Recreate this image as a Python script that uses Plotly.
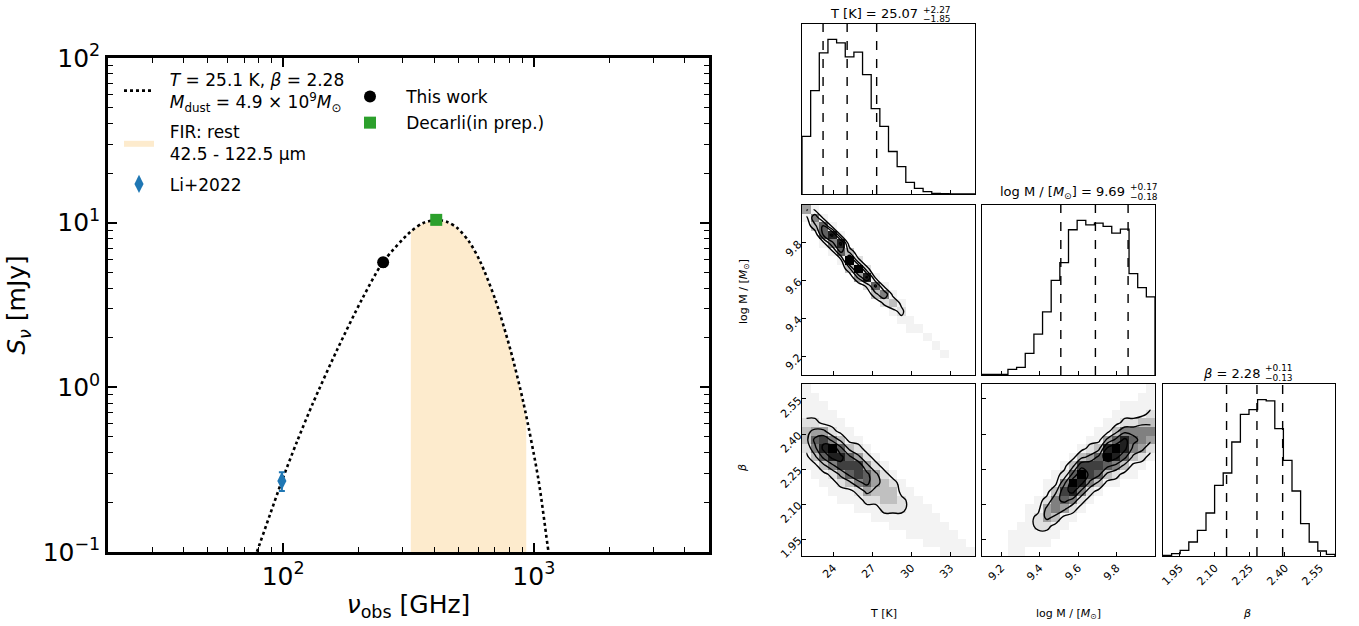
import numpy as np
import plotly.graph_objects as go

W, H = 1359, 626
FONT = "DejaVu Sans"
NB = "\u00a0"

# ---------------- SED panel data ----------------
model_nu = [75.6, 78.5, 88.5, 98.8, 113.4, 131.5, 164.0, 206.5, 250.5, 321.2, 362.2,
            408.2, 451.6, 495.2, 553.2, 612.1, 702.9, 807.0, 909.5, 1044.0, 1145.0, 1172.0]
model_S = [0.0858, 0.100, 0.168, 0.270, 0.466, 0.803, 1.686, 3.44, 5.77, 8.78, 9.95,
           10.38, 10.09, 9.28, 7.63, 5.77, 3.39, 1.686, 0.803, 0.274, 0.100, 0.0822]
fir_nu_edges = [323.0, 933.0]
fir_S_edges = [8.84, 0.66]

li_nu = [98.8]
li_S = [0.27]
li_err = [0.035]
tw_nu = [250.5]
tw_S = [5.75]
tw_err = [0.35]
dc_nu = [408.0]
dc_S = [10.4]
dc_err = [0.6]

sed_xticks = [100, 1000]
sed_xticklabels = ["10<sup>2</sup>", "10<sup>3</sup>"]
sed_yticks = [0.1, 1, 10, 100]
sed_yticklabels = ["10<sup>−1</sup>", "10<sup>0</sup>", "10<sup>1</sup>", "10<sup>2</sup>"]
sed_xlim = [20, 5000]
sed_ylim = [0.1, 100]

# ---------------- corner plot data ----------------
T_range = [21.6, 34.9]
M_range = [9.10, 10.0]
B_range = [1.878, 2.614]

T_hist = [172, 309, 422, 462, 452, 410, 424, 357, 255, 202, 127, 82, 35, 17, 7, 2, 1, 0, 0, 0]
M_hist = [2, 2, 2, 17, 23, 65, 123, 190, 285, 338, 437, 465, 452, 457, 447, 427, 439, 305, 263, 235]
B_hist = [2, 7, 17, 42, 77, 129, 212, 249, 342, 425, 439, 469, 465, 382, 287, 195, 97, 42, 15, 5]

T_q = [23.22, 25.07, 27.34]
M_q = [9.51, 9.69, 9.86]
B_q = [2.15, 2.28, 2.39]

T_ticks = [24, 27, 30, 33]
T_ticklabels = ["24", "27", "30", "33"]
M_ticks = [9.2, 9.4, 9.6, 9.8]
M_ticklabels = ["9.2", "9.4", "9.6", "9.8"]
B_ticks = [1.95, 2.10, 2.25, 2.40, 2.55]
B_ticklabels = ["1.95", "2.10", "2.25", "2.40", "2.55"]

# 2-D histogram grey levels (0 empty, 1 faint sample cloud ... 9 darkest), top row first
TM_grid = [
    "41000000000000000000",
    "15100000000000000000",
    "03610000000000000000",
    "00681000000000000000",
    "00158000000000000000",
    "00016300000000000000",
    "00001920000000000000",
    "00000392000000000000",
    "00000048100000000000",
    "00000002610000000000",
    "00000000351000000000",
    "00000000023100000000",
    "00000000001200000000",
    "00000000000110000000",
    "00000000000011000000",
    "00000000000000100000",
    "00000000000000010000",
    "00000000000000001000",
    "00000000000000000000",
    "00000000000000000000",
]
TB_grid = [
    "10000000000000000000",
    "11000000000000000000",
    "11100000000000000000",
    "11110000000000000000",
    "22111000000000000000",
    "34421100000000000000",
    "36753110000000000000",
    "25896321000000000000",
    "13688642100000000000",
    "11357774210000000000",
    "01124676421000000000",
    "00112356432100000000",
    "00011124333110000000",
    "00001112233211000000",
    "00000011122211100000",
    "00000000111111110000",
    "00000000001111111000",
    "00000000000011111100",
    "00000000000000111110",
    "00000000000000001111",
]
MB_grid = [
    "00000000000000000001",
    "00000000000000000011",
    "00000000000000001111",
    "00000000000000011112",
    "00000000000000112233",
    "00000000000001135555",
    "00000000000011468654",
    "00000000000123898542",
    "00000000001346986321",
    "00000000013777653110",
    "00000000126976321100",
    "00000001159853110000",
    "00000001378521000000",
    "00000012565210000000",
    "00000114542100000000",
    "00000124311000000000",
    "00001122110000000000",
    "00011111100000000000",
    "00011111000000000000",
    "00011000000000000000",
]

# ---------------- layout geometry (pixels) ----------------
SED_BOX = (108, 709, 58, 552)  # left, right, top, bottom
COLS = [(802, 975), (982, 1155), (1163, 1335)]
ROWS = [(24, 194), (205, 375), (384, 556)]


def dx(a, b):
    return [a / W, b / W]


def dy(top, bottom):
    return [1 - bottom / H, 1 - top / H]


fig = go.Figure()

# ---- SED panel ----
inner = [(n, s) for n, s in zip(model_nu, model_S) if fir_nu_edges[0] < n < fir_nu_edges[1]]
fx = [fir_nu_edges[0]] + [n for n, _ in inner] + [fir_nu_edges[1], fir_nu_edges[1], fir_nu_edges[0]]
fy = [fir_S_edges[0]] + [s for _, s in inner] + [fir_S_edges[1], 0.01, 0.01]
fig.add_trace(go.Scatter(x=fx, y=fy, mode="lines", fill="toself", fillcolor="#fdebcd",
                         line=dict(width=0, color="#fdebcd"),
                         name=NB * 2 + "FIR: rest<br>" + NB * 2 + "42.5 - 122.5 µm", legendrank=2,
                         legendgroup="fir", xaxis="x", yaxis="y", hoverinfo="skip"))
fig.add_trace(go.Scatter(x=model_nu, y=model_S, mode="lines",
                         line=dict(color="black", dash="dot", width=2.6, shape="spline", smoothing=0.8),
                         name=NB * 2 + "<i>T</i> = 25.1 K, <i>β</i> = 2.28<br>" + NB * 2
                              + "<i>M</i><sub>dust</sub> = 4.9 × 10<sup>9</sup><i>M</i><sub>⊙</sub>",
                         legendrank=1, legendgroup="model", xaxis="x", yaxis="y"))
fig.add_trace(go.Scatter(x=li_nu, y=li_S, mode="markers",
                         marker=dict(symbol="diamond-tall", size=13, color="#1f77b4"),
                         error_y=dict(type="data", array=li_err, color="#1f77b4", thickness=2, width=3),
                         name=NB * 2 + "Li+2022", legendrank=3, legendgroup="li", xaxis="x", yaxis="y"))
fig.add_trace(go.Scatter(x=tw_nu, y=tw_S, mode="markers",
                         marker=dict(symbol="circle", size=12, color="black"),
                         error_y=dict(type="data", array=tw_err, color="black", thickness=2, width=3),
                         name=NB * 3 + "This work", legend="legend2", legendgroup="tw", xaxis="x", yaxis="y"))
fig.add_trace(go.Scatter(x=dc_nu, y=dc_S, mode="markers",
                         marker=dict(symbol="square", size=12, color="#2ca02c"),
                         error_y=dict(type="data", array=dc_err, color="#2ca02c", thickness=2, width=3),
                         name=NB * 3 + "Decarli(in prep.)", legend="legend2", legendgroup="dc",
                         xaxis="x", yaxis="y"))


# ---- corner helpers ----
def edges(rng):
    return np.linspace(rng[0], rng[1], 21)


def centers(rng):
    e = edges(rng)
    return 0.5 * (e[:-1] + e[1:])


def parse(grid):
    rows = [[int(ch) for ch in s.ljust(20, "0")[:20]] for s in grid]
    return rows[::-1]


def add_hist(counts, rng, q, ax):
    e = edges(rng)
    xs = [e[0]] + list(e) + [e[-1]]
    ys = [0] + list(counts) + [counts[-1], 0]
    fig.add_trace(go.Scatter(x=xs, y=ys, mode="lines", line=dict(color="black", width=1.3, shape="hv"),
                             showlegend=False, xaxis="x" + ax, yaxis="y" + ax, hoverinfo="skip"))
    top = 1.1 * max(counts)
    for v in q:
        fig.add_trace(go.Scatter(x=[v, v], y=[0, top], mode="lines",
                                 line=dict(color="black", width=1.4, dash="dash"),
                                 showlegend=False, xaxis="x" + ax, yaxis="y" + ax, hoverinfo="skip"))


def add_2d(grid, xr, yr, ax):
    z = parse(grid)
    zh = [[(v if v > 0 else None) for v in row] for row in z]
    xc, yc = centers(xr), centers(yr)
    fig.add_trace(go.Heatmap(z=zh, x=xc, y=yc, zmin=1, zmax=9, showscale=False, showlegend=False,
                             colorscale=[[0, "#f3f3f3"], [0.125, "#e0e0e0"], [1, "#000000"]],
                             xaxis="x" + ax, yaxis="y" + ax, hoverinfo="skip"))
    fig.add_trace(go.Contour(z=z, x=xc, y=yc, autocontour=False, showlegend=False,
                             contours=dict(coloring="none", start=1.5, end=7.5, size=2),
                             line=dict(color="black", width=1.4, smoothing=1.2),
                             showscale=False, xaxis="x" + ax, yaxis="y" + ax, hoverinfo="skip"))


add_hist(T_hist, T_range, T_q, "2")
add_2d(TM_grid, T_range, M_range, "3")
add_hist(M_hist, M_range, M_q, "4")
add_2d(TB_grid, T_range, B_range, "5")
add_2d(MB_grid, M_range, B_range, "6")
add_hist(B_hist, B_range, B_q, "7")

# ---- axes ----
sed_common = dict(showline=True, linewidth=2.5, linecolor="black", mirror="allticks",
                  ticks="inside", ticklen=9, tickwidth=1.6, tickcolor="black",
                  showgrid=False, zeroline=False, automargin=False,
                  tickfont=dict(size=25, family=FONT, color="black"))
xaxis = dict(sed_common, type="log", domain=dx(SED_BOX[0], SED_BOX[1]), anchor="y",
             range=[np.log10(sed_xlim[0]), np.log10(sed_xlim[1])],
             tickmode="array", tickvals=sed_xticks, ticktext=sed_xticklabels,
             minor=dict(ticks="inside", ticklen=5, tickwidth=1.2, tickcolor="black", dtick="D1", showgrid=False),
             title=dict(text="<i>ν</i><sub>obs</sub> [GHz]", font=dict(size=25, family=FONT, color="black"), standoff=6))
yaxis = dict(sed_common, type="log", domain=dy(SED_BOX[2], SED_BOX[3]), anchor="x",
             range=[np.log10(sed_ylim[0]), np.log10(sed_ylim[1])],
             tickmode="array", tickvals=sed_yticks, ticktext=sed_yticklabels,
             minor=dict(ticks="inside", ticklen=5, tickwidth=1.2, tickcolor="black", dtick="D1", showgrid=False),
             title=dict(text="<i>S</i><sub><i>ν</i></sub> [mJy]", font=dict(size=25, family=FONT, color="black"), standoff=10))

c_common = dict(showline=True, linewidth=1.4, linecolor="black", mirror=True,
                ticks="inside", ticklen=4, tickwidth=1, tickcolor="black",
                showgrid=False, zeroline=False, automargin=False,
                tickfont=dict(size=11, family=FONT, color="black"))


def cax(col_or_row, rng, ticks=None, labels=None, show=False, anchor=None, horizontal=True):
    d = dict(c_common, range=rng, anchor=anchor)
    d["domain"] = dx(*COLS[col_or_row]) if horizontal else dy(*ROWS[col_or_row])
    if ticks is None:
        d.update(ticks="", showticklabels=False)
    else:
        d.update(tickmode="array", tickvals=ticks, ticktext=labels, showticklabels=show)
        if show:
            d["tickangle"] = -45
    return d


layout_axes = dict(
    xaxis2=cax(0, T_range, T_ticks, T_ticklabels, False, "y2"),
    yaxis2=cax(0, [0, 1.1 * max(T_hist)], None, None, False, "x2", horizontal=False),
    xaxis3=cax(0, T_range, T_ticks, T_ticklabels, False, "y3"),
    yaxis3=cax(1, M_range, M_ticks, M_ticklabels, True, "x3", horizontal=False),
    xaxis4=cax(1, M_range, M_ticks, M_ticklabels, False, "y4"),
    yaxis4=cax(1, [0, 1.1 * max(M_hist)], None, None, False, "x4", horizontal=False),
    xaxis5=cax(0, T_range, T_ticks, T_ticklabels, True, "y5"),
    yaxis5=cax(2, B_range, B_ticks, B_ticklabels, True, "x5", horizontal=False),
    xaxis6=cax(1, M_range, M_ticks, M_ticklabels, True, "y6"),
    yaxis6=cax(2, B_range, B_ticks, B_ticklabels, False, "x6", horizontal=False),
    xaxis7=cax(2, B_range, B_ticks, B_ticklabels, True, "y7"),
    yaxis7=cax(2, [0, 1.1 * max(B_hist)], None, None, False, "x7", horizontal=False),
)


def ann(text, x, y, size, xanchor="center", yanchor="middle", angle=0):
    return dict(text=text, x=x / W, y=1 - y / H, xref="paper", yref="paper", showarrow=False,
                xanchor=xanchor, yanchor=yanchor, textangle=angle,
                font=dict(size=size, family=FONT, color="black"))


annotations = [
    ann("T [K] = 25.07", 920, 14, 13, xanchor="right"),
    ann("+2.27", 921, 10, 9, xanchor="left"),
    ann("−1.85", 921, 19.5, 9, xanchor="left"),
    ann("log M / [<i>M</i><sub>⊙</sub>] = 9.69", 1127, 193, 13, xanchor="right"),
    ann("+0.17", 1128, 187, 9, xanchor="left"),
    ann("−0.18", 1128, 197, 9, xanchor="left"),
    ann("<i>β</i> = 2.28", 1262, 373, 13, xanchor="right"),
    ann("+0.11", 1263, 367.5, 9, xanchor="left"),
    ann("−0.13", 1263, 377.5, 9, xanchor="left"),
    ann("T [K]", 884, 613, 11),
    ann("log M / [<i>M</i><sub>⊙</sub>]", 1068, 614, 11),
    ann("<i>β</i>", 1247, 613, 11),
    ann("log M / [<i>M</i><sub>⊙</sub>]", 744, 292, 11, angle=-90),
    ann("<i>β</i>", 742, 468, 11, angle=-90),
]

fig.update_layout(
    width=W, height=H, autosize=False,
    margin=dict(l=0, r=0, t=0, b=0),
    paper_bgcolor="white", plot_bgcolor="white",
    font=dict(family=FONT, color="black"),
    xaxis=xaxis, yaxis=yaxis, **layout_axes,
    annotations=annotations,
    legend=dict(x=119 / W, y=1 - 62 / H, xanchor="left", yanchor="top", bgcolor="rgba(0,0,0,0)",
                font=dict(size=17, family=FONT, color="black"), traceorder="grouped",
                itemwidth=30, tracegroupgap=5),
    legend2=dict(x=350 / W, y=1 - 79 / H, xanchor="left", yanchor="top", bgcolor="rgba(0,0,0,0)",
                 font=dict(size=17, family=FONT, color="black"), itemwidth=30,
                 traceorder="grouped", tracegroupgap=1),
    showlegend=True,
)

fig.write_html("out.html", config={"displayModeBar": False},
               post_script="document.body.style.margin='0px';")
